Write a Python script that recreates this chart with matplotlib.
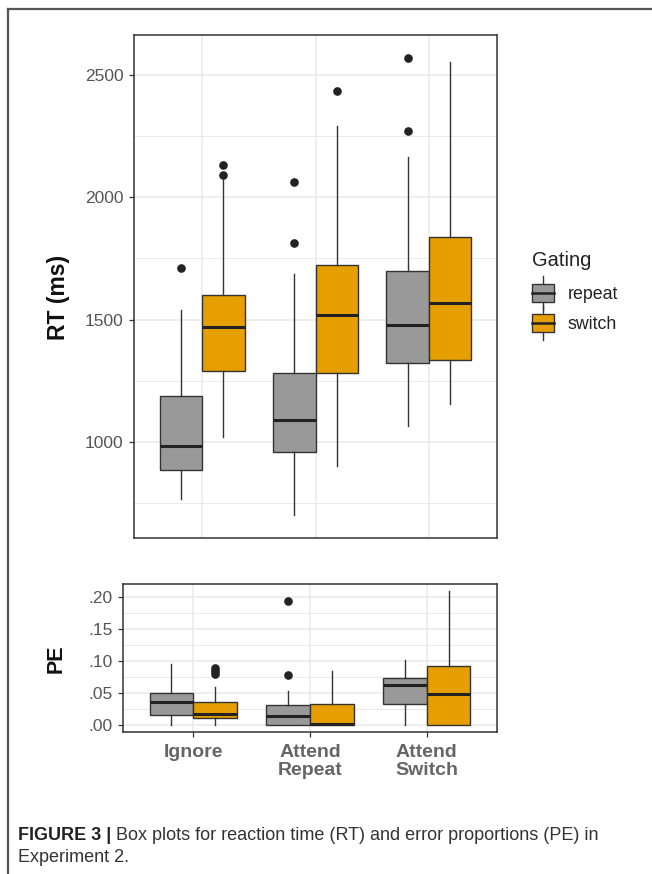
import matplotlib
matplotlib.use("Agg")
import matplotlib.pyplot as plt
from matplotlib.patches import Patch, Rectangle
from matplotlib.lines import Line2D
from matplotlib.legend_handler import HandlerBase
from matplotlib.ticker import MultipleLocator, FuncFormatter
from matplotlib import font_manager

# ---------------- data ----------------
categories = ["Ignore", "Attend\nRepeat", "Attend\nSwitch"]
gating = ["repeat", "switch"]

rt_repeat_whislo = [765, 700, 1063]
rt_repeat_q1 = [884, 960, 1322]
rt_repeat_med = [984, 1089, 1477]
rt_repeat_q3 = [1186, 1280, 1699]
rt_repeat_whishi = [1537, 1687, 2165]
rt_repeat_fliers = [[1712], [1814, 2064], [2272, 2570]]

rt_switch_whislo = [1020, 899, 1154]
rt_switch_q1 = [1291, 1280, 1335]
rt_switch_med = [1471, 1520, 1568]
rt_switch_q3 = [1601, 1723, 1837]
rt_switch_whishi = [2070, 2291, 2552]
rt_switch_fliers = [[2089, 2131], [2436], []]

pe_repeat_whislo = [0.0, 0.0, 0.0]
pe_repeat_q1 = [0.016, 0.0, 0.0326]
pe_repeat_med = [0.0367, 0.0134, 0.063]
pe_repeat_q3 = [0.0497, 0.0305, 0.0734]
pe_repeat_whishi = [0.096, 0.053, 0.101]
pe_repeat_fliers = [[], [0.0776, 0.1946], []]

pe_switch_whislo = [0.0, 0.0, 0.0]
pe_switch_q1 = [0.0113, 0.0, 0.0]
pe_switch_med = [0.0175, 0.001, 0.0486]
pe_switch_q3 = [0.0357, 0.0326, 0.0926]
pe_switch_whishi = [0.060, 0.0843, 0.21]
pe_switch_fliers = [[0.0797, 0.0845, 0.0885], [], []]

rt_ticks = [1000, 1500, 2000, 2500]
pe_ticks = [0.0, 0.05, 0.10, 0.15, 0.20]
caption_bold = "FIGURE 3 |"
caption_rest = " Box plots for reaction time (RT) and error proportions (PE) in"
caption_line2 = "Experiment 2."

# ---------------- style ----------------
COL_REPEAT = "#999999"
COL_SWITCH = "#E69F00"
EDGE = "#333333"
GRID = "#E9E9E9"

names = {f.name for f in font_manager.fontManager.ttflist}
FONT = "Liberation Sans" if "Liberation Sans" in names else "DejaVu Sans"
plt.rcParams["font.family"] = [FONT, "DejaVu Sans"]

W, H = 652, 874
fig = plt.figure(figsize=(W / 100, H / 100), dpi=100)


def fx(px):
    return px / W


def fy(py):
    return 1 - py / H


ax1 = fig.add_axes([fx(134), fy(538), fx(497) - fx(134), fy(35) - fy(538)])
ax2 = fig.add_axes([fx(123.3), fy(731.7), fx(496.7) - fx(123.3), fy(584) - fy(731.7)])

DODGE = 0.1875
BOXW = 0.375


def make_stats(lo, q1, med, q3, hi, fl):
    return [dict(whislo=a, q1=b, med=c, q3=d, whishi=e, fliers=f)
            for a, b, c, d, e, f in zip(lo, q1, med, q3, hi, fl)]


def draw(ax, stats, pos, color):
    ax.bxp(stats, positions=pos, widths=BOXW, patch_artist=True, showcaps=False,
           boxprops=dict(facecolor=color, edgecolor=EDGE, linewidth=1.0),
           medianprops=dict(color="#222222", linewidth=2.2, solid_capstyle="butt"),
           whiskerprops=dict(color=EDGE, linewidth=1.0),
           flierprops=dict(marker="o", markerfacecolor="#222222", markeredgecolor="#222222",
                           markersize=5.2, linestyle="none"),
           manage_ticks=False)


xs = list(range(1, len(categories) + 1))
pos_rep = [x - DODGE for x in xs]
pos_sw = [x + DODGE for x in xs]

draw(ax1, make_stats(rt_repeat_whislo, rt_repeat_q1, rt_repeat_med, rt_repeat_q3,
                     rt_repeat_whishi, rt_repeat_fliers), pos_rep, COL_REPEAT)
draw(ax1, make_stats(rt_switch_whislo, rt_switch_q1, rt_switch_med, rt_switch_q3,
                     rt_switch_whishi, rt_switch_fliers), pos_sw, COL_SWITCH)
draw(ax2, make_stats(pe_repeat_whislo, pe_repeat_q1, pe_repeat_med, pe_repeat_q3,
                     pe_repeat_whishi, pe_repeat_fliers), pos_rep, COL_REPEAT)
draw(ax2, make_stats(pe_switch_whislo, pe_switch_q1, pe_switch_med, pe_switch_q3,
                     pe_switch_whishi, pe_switch_fliers), pos_sw, COL_SWITCH)


def data_range(*lists):
    vals = []
    for l in lists:
        for v in l:
            if isinstance(v, list):
                vals.extend(v)
            else:
                vals.append(v)
    return min(vals), max(vals)


lo, hi = data_range(rt_repeat_whislo, rt_switch_whislo, rt_repeat_whishi, rt_switch_whishi,
                    rt_repeat_fliers, rt_switch_fliers)
pad = (hi - lo) * 0.05
ax1.set_ylim(lo - pad, hi + pad)
lo, hi = data_range(pe_repeat_whislo, pe_switch_whislo, pe_repeat_whishi, pe_switch_whishi,
                    pe_repeat_fliers, pe_switch_fliers)
pad = (hi - lo) * 0.05
ax2.set_ylim(lo - pad, hi + pad)

for ax in (ax1, ax2):
    ax.set_xlim(0.4, len(categories) + 0.6)
    ax.set_xticks(xs)
    ax.set_axisbelow(True)
    ax.grid(True, which="major", color=GRID, linewidth=1.1)
    ax.grid(True, which="minor", axis="y", color=GRID, linewidth=0.7)
    for s in ax.spines.values():
        s.set_color(EDGE)
        s.set_linewidth(1.1)
    ax.tick_params(axis="both", which="major", length=3.5, width=0.9, color=EDGE,
                   labelcolor="#555555", labelsize=12.5, pad=4)
    ax.tick_params(axis="both", which="minor", length=0)

ax1.set_yticks(rt_ticks)
ax1.yaxis.set_minor_locator(MultipleLocator(250))
ax1.tick_params(axis="x", length=0, labelbottom=False)

ax2.set_yticks(pe_ticks)
ax2.yaxis.set_minor_locator(MultipleLocator(0.025))
ax2.yaxis.set_major_formatter(FuncFormatter(lambda v, p: ("%.2f" % v).lstrip("0") if v >= 0 else ""))
ax2.set_xticklabels(categories, fontsize=14, fontweight="bold", color="#666666",
                    linespacing=1.1)
ax2.tick_params(axis="x", pad=5)

fig.text(fx(58), fy(297), "RT (ms)", rotation=90, ha="center", va="center",
         fontsize=16.5, fontweight="bold", color="#111111")
fig.text(fx(56), fy(659), "PE", rotation=90, ha="center", va="center",
         fontsize=15.5, fontweight="bold", color="#111111")


# ---------------- legend ----------------
class BoxHandler(HandlerBase):
    def create_artists(self, legend, orig_handle, xdescent, ydescent, width, height,
                       fontsize, trans):
        x0, y0 = -xdescent, -ydescent
        cx, cy = x0 + width / 2, y0 + height / 2
        bh = height * 0.82
        wl = Line2D([cx, cx], [cy - height * 0.77, cy + height * 0.77], color=EDGE,
                    linewidth=1.0, transform=trans)
        rect = Rectangle((x0, cy - bh / 2), width, bh, facecolor=orig_handle.get_facecolor(),
                         edgecolor=EDGE, linewidth=1.0, transform=trans)
        med = Line2D([x0, x0 + width], [cy, cy], color="#222222", linewidth=1.8,
                     transform=trans)
        return [wl, rect, med]


handles = [Patch(facecolor=COL_REPEAT), Patch(facecolor=COL_SWITCH)]
leg = fig.legend(handles, gating, title="Gating", loc="upper left",
                 bbox_to_anchor=(fx(532), fy(251)), bbox_transform=fig.transFigure,
                 frameon=False, fontsize=12.8, title_fontsize=14.5, borderpad=0,
                 borderaxespad=0, handlelength=1.25, handleheight=1.57, handletextpad=0.75,
                 labelspacing=0.42, alignment="left", handler_map={Patch: BoxHandler()})
leg._legend_box.sep = 8.5
for t in leg.get_texts():
    t.set_color("#222222")
leg.get_title().set_color("#222222")

# ---------------- border ----------------
fig.add_artist(Line2D([fx(8), fx(8)], [0, fy(8.5)], transform=fig.transFigure,
                      color="#555555", linewidth=1.6))
fig.add_artist(Line2D([fx(8), 1], [fy(8.5), fy(8.5)], transform=fig.transFigure,
                      color="#555555", linewidth=1.6))

# ---------------- caption ----------------
fig.canvas.draw()
r = fig.canvas.get_renderer()
cap_size = 13.0
t1 = fig.text(fx(18), fy(835), caption_bold, fontsize=cap_size, fontweight="bold",
              color="#222222", va="center", ha="left")
bb = t1.get_window_extent(r)
fig.text(bb.x1 / fig.bbox.width, fy(835), caption_rest, fontsize=cap_size,
         color="#333333", va="center", ha="left")
fig.text(fx(18), fy(858), caption_line2, fontsize=cap_size,
         color="#333333", va="center", ha="left")

fig.savefig("out.png", dpi=100)
